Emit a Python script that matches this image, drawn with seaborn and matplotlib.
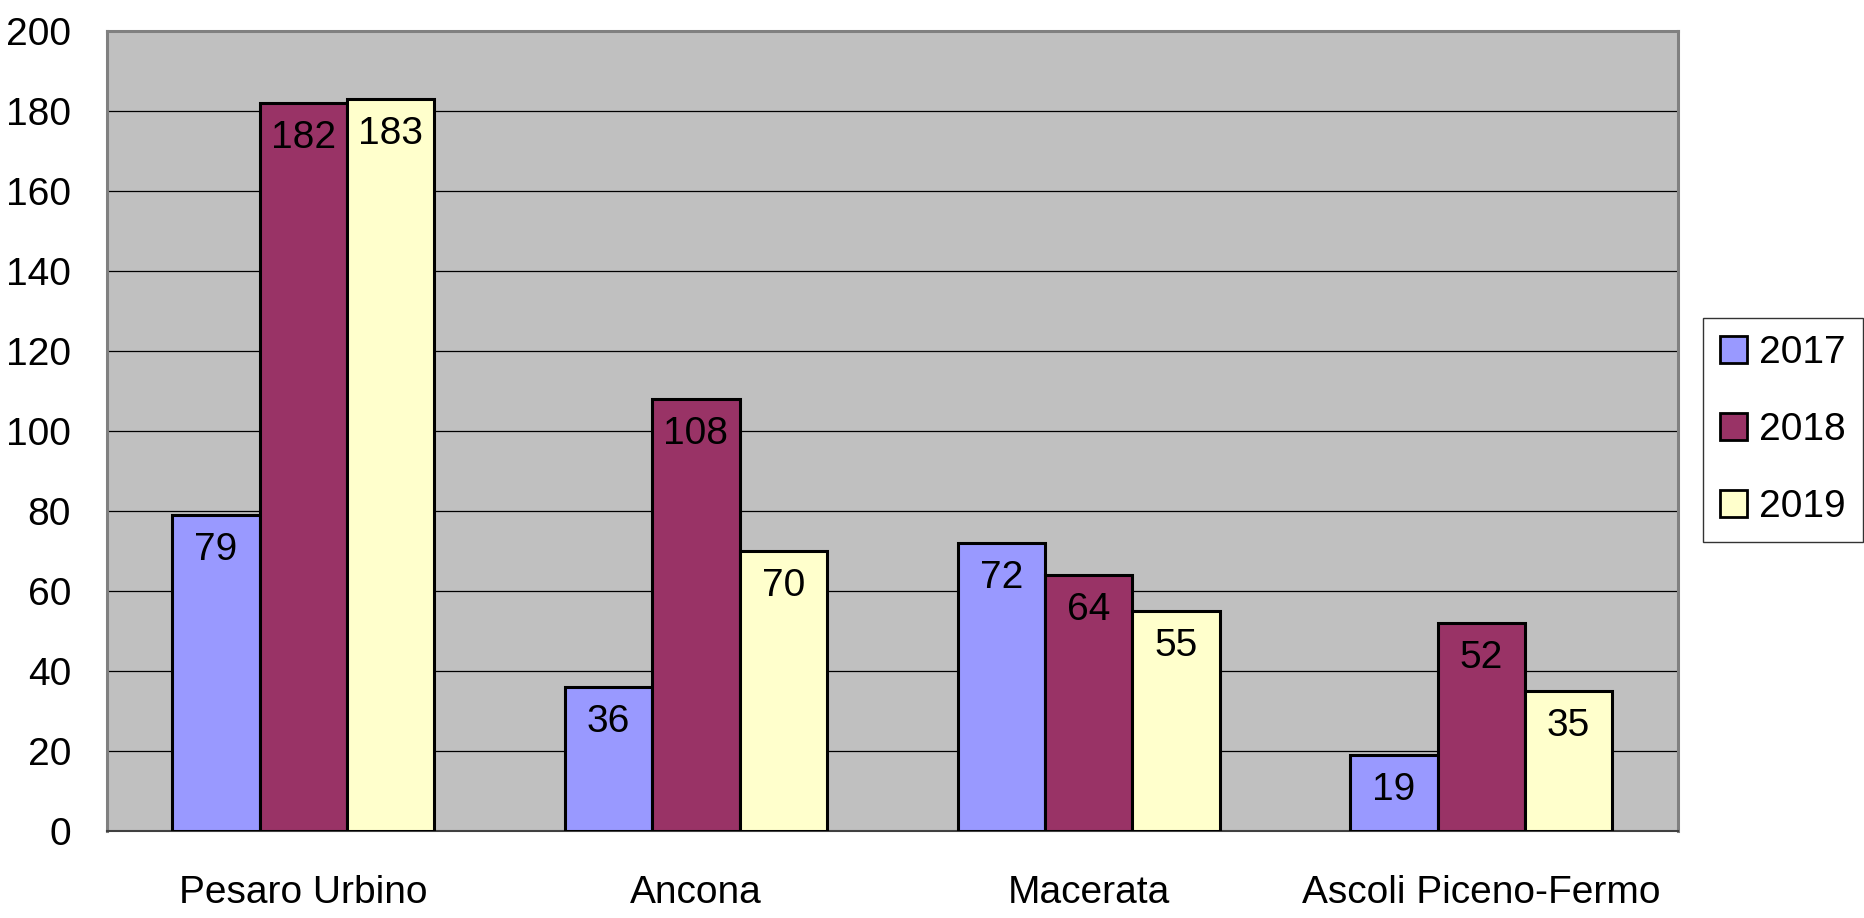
import matplotlib
matplotlib.use("Agg")
import matplotlib.pyplot as plt
import pandas as pd
import seaborn as sns
from matplotlib.patches import Patch

# data
province = ['Pesaro Urbino', 'Ancona', 'Macerata', 'Ascoli Piceno-Fermo']
anni = ['2017', '2018', '2019']
v2017 = [79, 36, 72, 19]
v2018 = [182, 108, 64, 52]
v2019 = [183, 70, 55, 35]
colori = ['#9999FF', '#993366', '#FFFFCC']
y_ticks = list(range(0, 201, 20))

df = pd.DataFrame({
    'provincia': province * 3,
    'anno': [a for a in anni for _ in province],
    'valore': v2017 + v2018 + v2019,
})

sns.set_style('white')
plt.rcParams['font.family'] = ['Liberation Sans Narrow', 'Liberation Sans', 'DejaVu Sans']
plt.rcParams['text.color'] = 'black'
plt.rcParams['xtick.color'] = 'black'
plt.rcParams['ytick.color'] = 'black'
fs = 28

fig = plt.figure(figsize=(18.64, 9.18), dpi=100)
ax = fig.add_axes([0.0574, 0.0948, 0.8426, 0.8714])
ax.set_facecolor('#C0C0C0')

sns.barplot(data=df, x='provincia', y='valore', hue='anno', hue_order=anni,
            order=province, palette=colori, saturation=1, edgecolor='black',
            linewidth=2.2, width=0.667, gap=0, ax=ax, legend=False, zorder=3)

for cont in ax.containers:
    ax.bar_label(cont, fmt='%d', label_type='edge', padding=-38, fontsize=fs,
                 color='black', zorder=4)

ax.set_ylim(0, 200)
ax.set_yticks(y_ticks)
ax.set_xlim(-0.5, len(province) - 0.5)
ax.yaxis.grid(True, color='black', linewidth=0.9, zorder=1)
ax.set_axisbelow(True)

ax.set_xticks(range(len(province)))
ax.set_xticklabels(province)
ax.set_xticks([i - 0.5 for i in range(len(province) + 1)], minor=True)
ax.tick_params(axis='x', which='major', length=0, pad=32, labelsize=fs, labelcolor='black')
ax.tick_params(axis='x', which='minor', length=14, width=1, color='#404040', direction='out')
ax.tick_params(axis='y', length=10, width=1, color='#404040', direction='out', pad=16,
               labelsize=fs, labelcolor='black')
ax.set_xlabel('')
ax.set_ylabel('')

for s in ['top', 'right', 'left']:
    ax.spines[s].set_color('#808080')
    ax.spines[s].set_linewidth(2.2)
ax.spines['bottom'].set_color('#404040')
ax.spines['bottom'].set_linewidth(1.5)

handles = [Patch(facecolor=c, edgecolor='black', linewidth=2) for c in colori]
leg = fig.legend(handles, anni, loc='center', bbox_to_anchor=(0.9565, 0.5315),
                 frameon=True, fancybox=False, fontsize=fs, handlelength=0.7,
                 handleheight=0.7, handletextpad=0.3, labelspacing=1.05,
                 borderpad=0.45, borderaxespad=0)
leg.get_frame().set_edgecolor('black')
leg.get_frame().set_linewidth(1)

fig.savefig('out.png', dpi=100)
